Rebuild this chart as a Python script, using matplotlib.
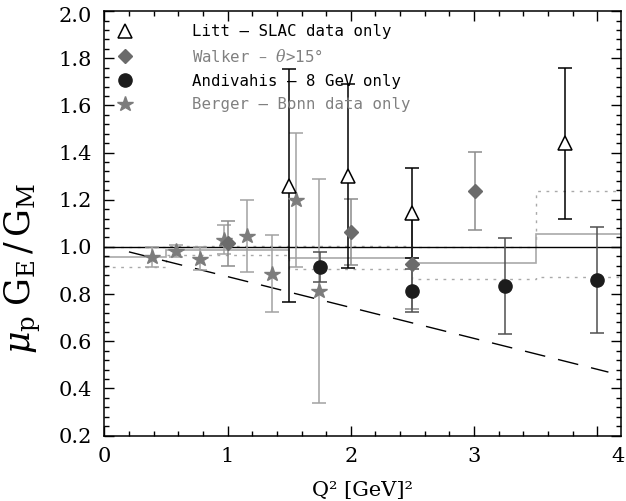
import numpy as np
import matplotlib
matplotlib.use("Agg")
import matplotlib.pyplot as plt
from matplotlib.lines import Line2D
from matplotlib.ticker import MultipleLocator

plt.rcParams['font.family'] = ['DejaVu Serif']
plt.rcParams['mathtext.fontset'] = 'dejavuserif'

# Litt - SLAC data only
litt_q = [1.50, 1.98, 2.50, 3.74]
litt_r = [1.26, 1.30, 1.145, 1.44]
litt_e = [0.495, 0.39, 0.19, 0.32]

# Walker - theta > 15 deg
walker_q = [1.00, 2.00, 2.50, 3.01]
walker_r = [1.015, 1.064, 0.927, 1.238]
walker_e = [0.095, 0.14, 0.19, 0.166]

# Andivahis - 8 GeV only
andiv_q = [1.75, 2.50, 3.25, 4.00]
andiv_r = [0.915, 0.815, 0.834, 0.861]
andiv_e = [0.064, 0.09, 0.204, 0.225]

# Berger - Bonn data only
berger_q = [0.39, 0.58, 0.78, 0.97, 1.16, 1.36, 1.556, 1.745]
berger_r = [0.957, 0.983, 0.95, 1.031, 1.045, 0.887, 1.20, 0.813]
berger_e = [0.043, 0.025, 0.05, 0.062, 0.152, 0.165, 0.285, 0.475]

# binned average (solid) and its band (dotted)
bin_edges = [0.0, 0.5, 1.5, 2.5, 3.5, 4.19]
bin_avg = [0.957, 0.985, 0.955, 0.932, 1.054]
bin_hi = [1.0, 1.006, 1.005, 1.001, 1.237]
bin_lo = [0.914, 0.964, 0.905, 0.863, 0.871]

# linear fit (dashed)
fit_q = [0.2, 4.09]
fit_r = [0.979, 0.469]

labels = ['Litt \u2013 SLAC data only',
          'Walker \u2013 $\\theta$>15\u00b0',
          'Andivahis \u2013 8 GeV only',
          'Berger \u2013 Bonn data only']

fig = plt.figure(figsize=(6.26, 5.01), dpi=100)
ax = fig.add_axes([0.1666, 0.1307, 0.825, 0.847])

band_col = '#a9a9a9'
ax.stairs(bin_avg, bin_edges, baseline=None, color=band_col, lw=1.2)
ax.stairs(bin_hi, bin_edges, baseline=None, color=band_col, lw=1.0,
          linestyle=(0, (2, 4)))
ax.stairs(bin_lo, bin_edges, baseline=None, color=band_col, lw=1.0,
          linestyle=(0, (2, 4)))
ax.axhline(1.0, color='black', lw=1.0)
ax.plot(fit_q, fit_r, color='black', lw=1.0, linestyle=(0, (15, 9.5)))

ax.errorbar(berger_q, berger_r, yerr=berger_e, fmt='*', ms=11.5,
            color='#7c7c7c', ecolor='#a2a2a2', elinewidth=1.1,
            capsize=5, capthick=1.1)
ax.errorbar(walker_q, walker_r, yerr=walker_e, fmt='D', ms=7.5,
            color='#6b6b6b', ecolor='#8c8c8c', elinewidth=1.1,
            capsize=5, capthick=1.1)
ax.errorbar(andiv_q, andiv_r, yerr=andiv_e, fmt='o', ms=9.5,
            color='#1c1c1c', ecolor='#505050', elinewidth=1.1,
            capsize=5, capthick=1.1)
ax.errorbar(litt_q, litt_r, yerr=litt_e, fmt='^', ms=10.5,
            mfc='white', mec='black', mew=1.1, ecolor='black',
            elinewidth=1.1, capsize=5, capthick=1.1)

handles = [
    Line2D([], [], ls='none', marker='^', ms=10.5, mfc='white',
           mec='black', mew=1.1),
    Line2D([], [], ls='none', marker='D', ms=7.5, color='#6b6b6b'),
    Line2D([], [], ls='none', marker='o', ms=9.5, color='#1c1c1c'),
    Line2D([], [], ls='none', marker='*', ms=11.5, color='#7c7c7c'),
]
leg = ax.legend(handles, labels, loc='upper left',
                bbox_to_anchor=(0.025, 0.969), frameon=False,
                borderpad=0, borderaxespad=0, handlelength=1.0,
                handletextpad=3.75, labelspacing=0.55,
                prop={'family': 'DejaVu Sans Mono', 'size': 11.3})
for txt, col in zip(leg.get_texts(), ['black', '#808080', 'black', '#808080']):
    txt.set_color(col)

ax.set_xlim(0, 4.19)
ax.set_ylim(0.2, 2.0)
ax.set_xticks([0, 1, 2, 3, 4], ['0', '1', '2', '3', ''])
ax.set_yticks(np.arange(0.2, 2.01, 0.2),
              ['0.2', '0.4', '0.6', '0.8', '1.0', '1.2', '1.4', '1.6',
               '1.8', ''])
ax.xaxis.set_minor_locator(MultipleLocator(0.2))
ax.yaxis.set_minor_locator(MultipleLocator(0.04))
ax.tick_params(which='both', direction='in', top=True, right=True,
               width=1.0, labelsize=15)
ax.tick_params(which='major', length=7)
ax.tick_params(which='minor', length=3.5)
ax.tick_params(axis='x', pad=8)
ax.tick_params(axis='y', pad=9)
for sp in ax.spines.values():
    sp.set_linewidth(1.1)

# edge tick labels sit inside the frame in the original
ax.annotate('4', xy=(1, 0), xycoords='axes fraction', xytext=(-2, -8),
            textcoords='offset points', ha='center', va='top', fontsize=15)
ax.annotate('2.0', xy=(0, 1), xycoords='axes fraction', xytext=(-9, -4),
            textcoords='offset points', ha='right', va='center',
            fontsize=15)

ax.set_xlabel('Q\u00b2 [GeV]\u00b2', fontsize=15, labelpad=11)
ax.set_ylabel(r'$\mu_{\rm p}\;{\rm G_E}\,/\,{\rm G_M}$', fontsize=25)
ax.yaxis.set_label_coords(-0.118, 0.395)

fig.savefig('out.png', dpi=100)
